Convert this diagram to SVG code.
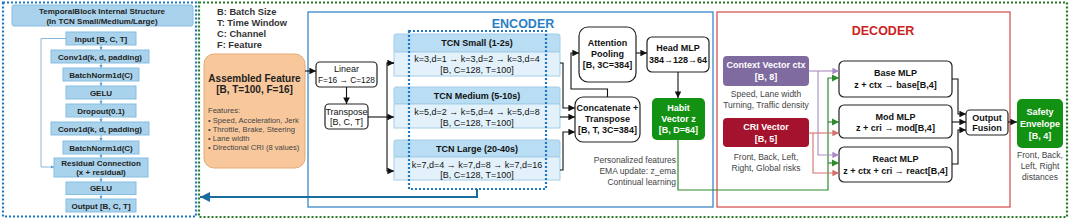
<svg xmlns="http://www.w3.org/2000/svg" width="1080" height="219" viewBox="0 0 1080 219">
<defs>
<style>
text{font-family:"Liberation Sans",Arial,sans-serif;}
.lb{fill:#a9d3ec;stroke:#86bde0;stroke-width:1;}
.lt{font-size:8px;font-weight:bold;fill:#222;text-anchor:middle;}
.leg{font-size:9.3px;font-weight:bold;fill:#333;}
.wb{fill:#fff;stroke:#222;stroke-width:1.2;}
.t9{font-size:9px;fill:#111;text-anchor:middle;}
.t9b{font-size:9px;font-weight:bold;fill:#111;text-anchor:middle;}
.th{fill:#b9ddf2;stroke:#a3cde8;stroke-width:1;}
.tb{fill:#e3f1fb;stroke:#a3cde8;stroke-width:1;}
.wt{font-size:9px;font-weight:bold;fill:#fff;text-anchor:middle;}
.gr{font-size:8.5px;fill:#444;text-anchor:middle;}
.ln{fill:none;stroke:#111;stroke-width:1.1;}
.pl{fill:none;stroke:#a98cc4;stroke-width:1.1;}
.rl{fill:none;stroke:#d4716c;stroke-width:1.1;}
.gl{fill:none;stroke:#2f8a2f;stroke-width:1.2;}
.sl{fill:none;stroke:#6aa6d0;stroke-width:0.8;}
</style>
<marker id="ak" viewBox="0 0 10 10" refX="10" refY="5" markerWidth="6" markerHeight="6" orient="auto"><path d="M0,0L10,5L0,10z" fill="#111"/></marker>
<marker id="ap" viewBox="0 0 10 10" refX="10" refY="5" markerWidth="6" markerHeight="6" orient="auto"><path d="M0,0L10,5L0,10z" fill="#a98cc4"/></marker>
<marker id="ar" viewBox="0 0 10 10" refX="10" refY="5" markerWidth="6" markerHeight="6" orient="auto"><path d="M0,0L10,5L0,10z" fill="#d4716c"/></marker>
<marker id="ag" viewBox="0 0 10 10" refX="10" refY="5" markerWidth="6" markerHeight="6" orient="auto"><path d="M0,0L10,5L0,10z" fill="#2f8a2f"/></marker>
<marker id="ab" viewBox="0 0 10 10" refX="10" refY="5" markerWidth="4" markerHeight="4" orient="auto"><path d="M0,0L10,5L0,10z" fill="#5a9ccc"/></marker>
<marker id="at" viewBox="0 0 10 10" refX="10" refY="5" markerWidth="5" markerHeight="5" orient="auto"><path d="M0,0L10,5L0,10z" fill="#1a6e9e"/></marker>
</defs>
<rect width="1080" height="219" fill="#fff"/>

<!-- frames -->
<rect id="temporal-panel" x="3" y="2.5" width="193" height="214" fill="none" stroke="#1f78c1" stroke-width="2.2" stroke-dasharray="2,2"/>
<rect id="main-panel" x="199" y="2.5" width="868" height="214.5" fill="none" stroke="#2a7a2a" stroke-width="2.2" stroke-dasharray="2,2"/>
<rect id="encoder-frame" x="308" y="12" width="405" height="195" fill="none" stroke="#3a88c8" stroke-width="1.3"/>
<rect id="decoder-frame" x="717" y="12" width="293" height="195" fill="none" stroke="#d45555" stroke-width="1.3"/>
<text x="523" y="28" font-size="12.5" font-weight="bold" fill="#2a7fc6" text-anchor="middle">ENCODER</text>
<text x="883" y="35" font-size="12.5" font-weight="bold" fill="#cc1f1f" text-anchor="middle">DECODER</text>

<!-- temporal block panel -->
<g id="tb-title"><rect class="lb" x="12" y="5" width="181" height="21" rx="2"/><text class="lt" x="102" y="14">TemporalBlock Internal Structure</text><text class="lt" x="102" y="24">(In TCN Small/Medium/Large)</text></g>
<g id="tb-input"><rect class="lb" x="66" y="32" width="70" height="13"/><text class="lt" x="101" y="41.5">Input [B, C, T]</text></g>
<g id="tb-conv1"><rect class="lb" x="51" y="50" width="98" height="13"/><text class="lt" x="100" y="59.5">Conv1d(k, d, padding)</text></g>
<g id="tb-bn1"><rect class="lb" x="63" y="68" width="76" height="13"/><text class="lt" x="101" y="77.5">BatchNorm1d(C)</text></g>
<g id="tb-gelu1"><rect class="lb" x="66" y="86" width="70" height="13"/><text class="lt" x="101" y="95.5">GELU</text></g>
<g id="tb-drop"><rect class="lb" x="66" y="104" width="70" height="13"/><text class="lt" x="101" y="113.5">Dropout(0.1)</text></g>
<g id="tb-conv2"><rect class="lb" x="51" y="122" width="98" height="13"/><text class="lt" x="100" y="131.5">Conv1d(k, d, padding)</text></g>
<g id="tb-bn2"><rect class="lb" x="63" y="141" width="76" height="13"/><text class="lt" x="101" y="150.5">BatchNorm1d(C)</text></g>
<g id="tb-res"><rect class="lb" x="54" y="158" width="94" height="19"/><text class="lt" x="101" y="166">Residual Connection</text><text class="lt" x="101" y="175">(x + residual)</text></g>
<g id="tb-gelu2"><rect class="lb" x="66" y="182" width="70" height="12.5"/><text class="lt" x="101" y="191">GELU</text></g>
<g id="tb-output"><rect class="lb" x="66" y="199" width="70" height="13"/><text class="lt" x="101" y="208.5">Output [B, C, T]</text></g>

<!-- legend -->
<g id="legend"><text class="leg" x="217" y="15">B: Batch Size</text><text class="leg" x="217" y="26">T: Time Window</text><text class="leg" x="217" y="37">C: Channel</text><text class="leg" x="217" y="48">F: Feature</text></g>

<!-- encoder nodes -->
<g id="assembled-feature"><rect x="204" y="54" width="101" height="114" rx="10" fill="#f8c89c" stroke="#e4aa74" stroke-width="1"/>
<text x="254.5" y="82" font-size="10" font-weight="bold" fill="#222" text-anchor="middle">Assembled Feature</text>
<text x="254.5" y="93" font-size="10" font-weight="bold" fill="#222" text-anchor="middle">[B, T=100, F=16]</text>
<g font-size="7.6" fill="#444"><text x="208" y="113">Features:</text><text x="208" y="122.5">• Speed, Acceleration, Jerk</text><text x="208" y="131.5">• Throttle, Brake, Steering</text><text x="208" y="141">• Lane width</text><text x="208" y="150">• Directional CRI (8 values)</text></g></g>
<g id="linear"><rect class="wb" x="316" y="62" width="61" height="25" rx="4" stroke="#4a2a2a"/><text class="t9" x="346.5" y="72">Linear</text><text class="t9" x="346.5" y="82.5" font-size="8.5" textLength="57" lengthAdjust="spacingAndGlyphs">F=16 → C=128</text></g>
<g id="transpose"><rect class="wb" x="325" y="104" width="43" height="25" rx="4"/><text class="t9" x="346.5" y="114.5">Transpose</text><text class="t9" x="346.5" y="125">[B, C, T]</text></g>
<g id="tcn-small"><rect class="th" x="394" y="34" width="166" height="18" rx="2"/><rect class="tb" x="394" y="52" width="166" height="24"/><text class="t9b" x="477" y="46" font-size="9.4">TCN Small  (1-2s)</text><text class="t9" x="477" y="62">k=3,d=1 → k=3,d=2 → k=3,d=4</text><text class="t9" x="477" y="72.5">[B, C=128, T=100]</text></g>
<g id="tcn-medium"><rect class="th" x="394" y="87" width="166" height="17" rx="2"/><rect class="tb" x="394" y="104" width="166" height="24"/><text class="t9b" x="477" y="98.5" font-size="9.4">TCN Medium  (5-10s)</text><text class="t9" x="477" y="115">k=5,d=2 → k=5,d=4 → k=5,d=8</text><text class="t9" x="477" y="125.5">[B, C=128, T=100]</text></g>
<g id="tcn-large"><rect class="th" x="394" y="140" width="166" height="17" rx="2"/><rect class="tb" x="394" y="157" width="166" height="23"/><text class="t9b" x="477" y="151.5" font-size="9.4">TCN Large  (20-40s)</text><text class="t9" x="477" y="167.5">k=7,d=4 → k=7,d=8 → k=7,d=16</text><text class="t9" x="477" y="177.5">[B, C=128, T=100]</text></g>
<rect id="tcn-highlight" x="409" y="31" width="137" height="158" fill="none" stroke="#1f78c1" stroke-width="2.2" stroke-dasharray="2,2"/>
<g id="attention-pooling"><rect class="wb" x="579" y="27" width="57" height="55" rx="9"/><text class="t9b" x="607.5" y="46">Attention</text><text class="t9b" x="607.5" y="57">Pooling</text><text class="t9b" x="607.5" y="68">[B, 3C=384]</text></g>
<g id="concatenate"><rect class="wb" x="575" y="97" width="65" height="45" rx="8"/><text class="t9b" x="607.5" y="111" font-size="8.7">Concatenate +</text><text class="t9b" x="607.5" y="122">Transpose</text><text class="t9b" x="607.5" y="133" font-size="8.7">[B, T, 3C=384]</text></g>
<g id="head-mlp"><rect class="wb" x="647" y="37" width="62" height="35" rx="5"/><text class="t9b" x="678" y="51">Head MLP</text><text class="t9b" x="678" y="63">384→128→64</text></g>
<g id="habit-vector"><rect x="652" y="98" width="53" height="42" rx="5" fill="#139113"/><text class="wt" x="678.5" y="111">Habit</text><text class="wt" x="678.5" y="122">Vector z</text><text class="wt" x="678.5" y="133">[B, D=64]</text></g>
<g id="habit-note" font-size="8.5" fill="#444" text-anchor="end"><text x="676" y="163">Personalized features</text><text x="676" y="174">EMA update: z_ema</text><text x="676" y="185">Continual learning</text></g>

<!-- decoder nodes -->
<g id="context-vector"><rect x="723" y="56" width="86" height="30" rx="4" fill="#7f6b9f"/><text class="wt" x="766" y="68">Context Vector ctx</text><text class="wt" x="766" y="80">[B, 8]</text><text class="gr" x="766" y="97">Speed, Lane width</text><text class="gr" x="766" y="108">Turning, Traffic density</text></g>
<g id="cri-vector"><rect x="723" y="118" width="86" height="29" rx="4" fill="#a5122d"/><text class="wt" x="766" y="130">CRI Vector</text><text class="wt" x="766" y="142">[B, 5]</text><text class="gr" x="766" y="160">Front, Back, Left,</text><text class="gr" x="766" y="171">Right, Global risks</text></g>
<g id="base-mlp"><rect class="wb" x="839" y="61" width="113" height="36" rx="5"/><text class="t9b" x="895.5" y="76">Base MLP</text><text class="t9b" x="895.5" y="88">z + ctx → base[B,4]</text></g>
<g id="mod-mlp"><rect class="wb" x="839" y="105" width="113" height="33" rx="5"/><text class="t9b" x="895.5" y="119.5">Mod MLP</text><text class="t9b" x="895.5" y="131">z + cri → mod[B,4]</text></g>
<g id="react-mlp"><rect class="wb" x="839" y="147" width="113" height="35" rx="5"/><text class="t9b" x="895.5" y="161.5">React MLP</text><text class="t9b" x="895.5" y="173.5" font-size="8.6">z + ctx + cri → react[B,4]</text></g>
<g id="output-fusion"><rect class="wb" x="966" y="110" width="42" height="25" rx="4"/><text class="t9b" x="987" y="120.5">Output</text><text class="t9b" x="987" y="131">Fusion</text></g>
<g id="safety-envelope"><rect x="1017" y="99" width="46" height="49" rx="5" fill="#139113"/><text class="wt" x="1040" y="115">Safety</text><text class="wt" x="1040" y="127">Envelope</text><text class="wt" x="1040" y="139">[B, 4]</text><text class="gr" x="1040" y="158">Front, Back,</text><text class="gr" x="1040" y="169">Left, Right</text><text class="gr" x="1040" y="180">distances</text></g>

<!-- connectors -->
<g id="connectors">
<g id="tb-flow">
<line class="sl" x1="101" y1="45" x2="101" y2="50" marker-end="url(#ab)"/>
<line class="sl" x1="101" y1="63" x2="101" y2="68" marker-end="url(#ab)"/>
<line class="sl" x1="101" y1="81" x2="101" y2="86" marker-end="url(#ab)"/>
<line class="sl" x1="101" y1="99" x2="101" y2="104" marker-end="url(#ab)"/>
<line class="sl" x1="101" y1="117" x2="101" y2="122" marker-end="url(#ab)"/>
<line class="sl" x1="101" y1="135" x2="101" y2="141" marker-end="url(#ab)"/>
<line class="sl" x1="101" y1="154" x2="101" y2="158" marker-end="url(#ab)"/>
<line class="sl" x1="101" y1="177" x2="101" y2="182" marker-end="url(#ab)"/>
<line class="sl" x1="101" y1="194.5" x2="101" y2="199" marker-end="url(#ab)"/>
<path class="sl" d="M66,38.5H41V167H54" marker-end="url(#ab)"/>
</g>
<path d="M477,189V197H200" fill="none" stroke="#1a6e9e" stroke-width="2" marker-end="url(#at)"/>
<line class="ln" x1="305" y1="71" x2="316" y2="71" marker-end="url(#ak)"/>
<line class="ln" x1="346.5" y1="87" x2="346.5" y2="104" marker-end="url(#ak)"/>
<line class="ln" x1="368" y1="117" x2="394" y2="117" marker-end="url(#ak)"/>
<path class="ln" d="M394,63H387V171H394" marker-end="url(#ak)"/>
<line class="ln" x1="387" y1="63" x2="394" y2="63" marker-end="url(#ak)"/>
<path class="ln" d="M560,63H563V108H575" marker-end="url(#ak)"/>
<line class="ln" x1="560" y1="117" x2="575" y2="117" marker-end="url(#ak)"/>
<path class="ln" d="M560,170H563V132H575" marker-end="url(#ak)"/>
<path class="ln" d="M607.5,97V89H571V53H579" marker-end="url(#ak)"/>
<line class="ln" x1="636" y1="53" x2="647" y2="53" marker-end="url(#ak)"/>
<line class="ln" x1="678" y1="72" x2="678" y2="98" marker-end="url(#ak)"/>
<path class="gl" d="M678,140V190H828V78H839" marker-end="url(#ag)"/>
<line class="gl" x1="828" y1="122" x2="839" y2="122" marker-end="url(#ag)"/>
<line class="gl" x1="828" y1="163" x2="839" y2="163" marker-end="url(#ag)"/>
<line class="pl" x1="809" y1="71" x2="839" y2="71" marker-end="url(#ap)"/>
<path class="pl" d="M818,71V155H839" marker-end="url(#ap)"/>
<line class="rl" x1="809" y1="133" x2="839" y2="133" marker-end="url(#ar)"/>
<path class="rl" d="M813,133V173H839" marker-end="url(#ar)"/>
<path class="ln" d="M952,79H958V114H966" marker-end="url(#ak)"/>
<line class="ln" x1="952" y1="122" x2="966" y2="122" marker-end="url(#ak)"/>
<path class="ln" d="M952,164H958V130H966" marker-end="url(#ak)"/>
<line class="ln" x1="1008" y1="122" x2="1017" y2="122" marker-end="url(#ak)"/>
</g>
</svg>
